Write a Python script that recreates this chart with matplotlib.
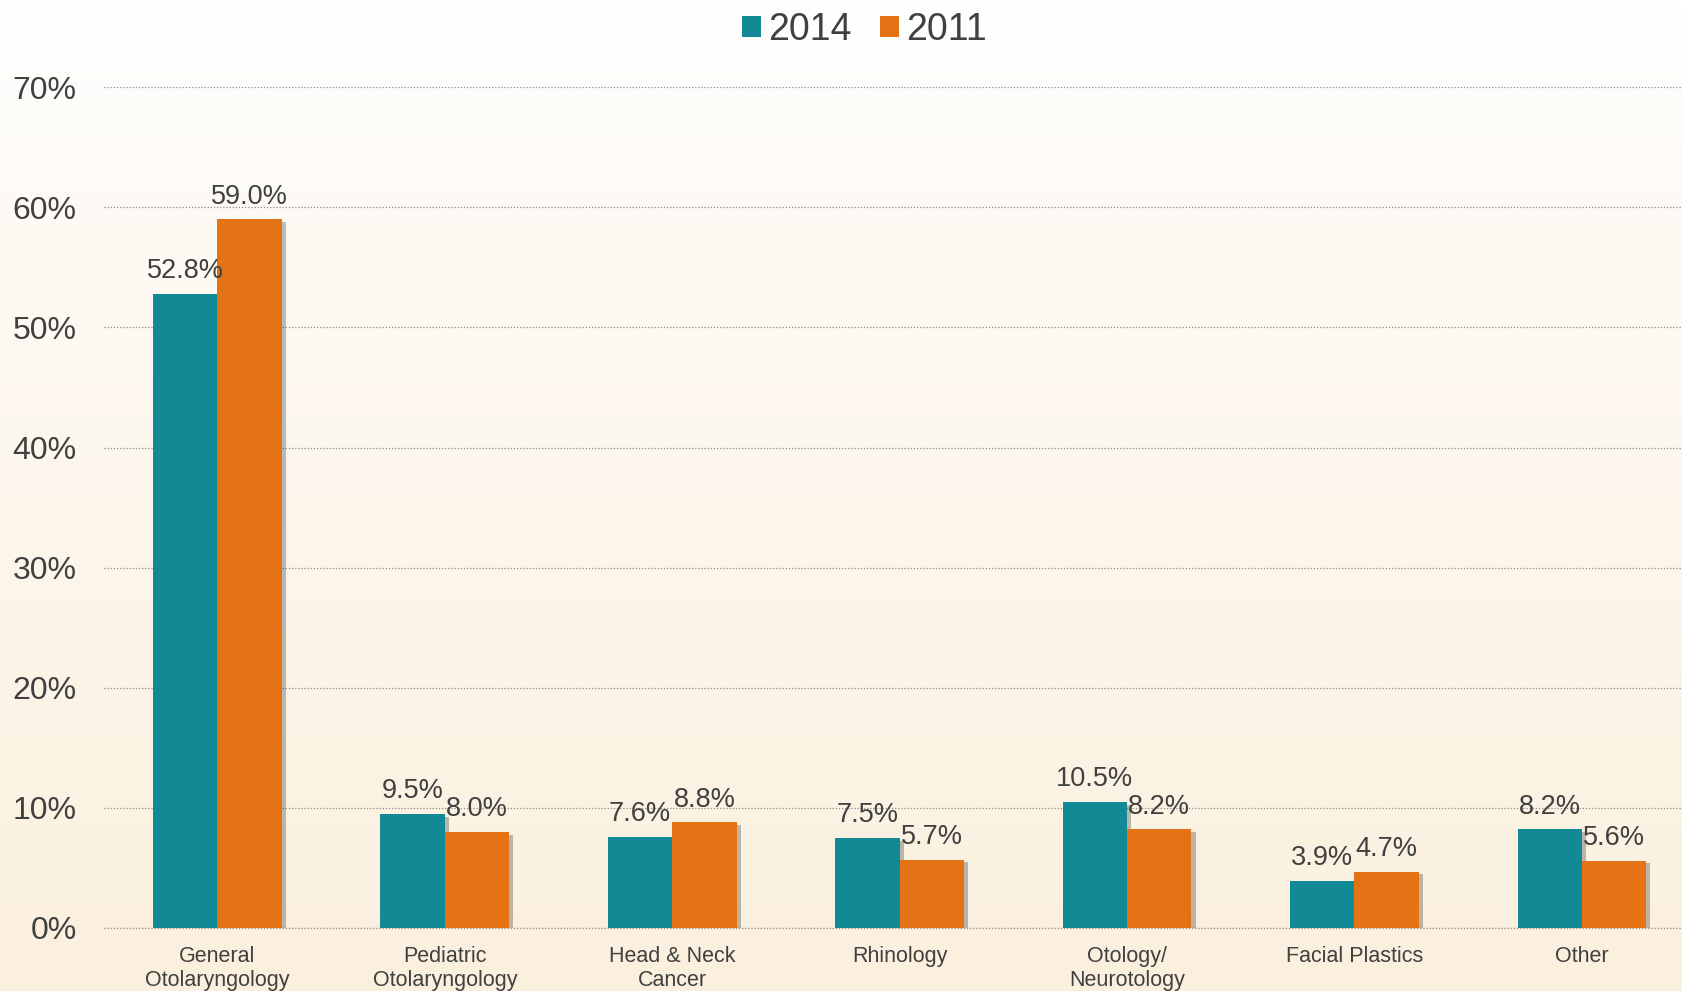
import matplotlib
matplotlib.use("Agg")
import matplotlib.pyplot as plt
import matplotlib.patheffects as pe
import numpy as np

plt.rcParams["font.family"] = ["Liberation Sans", "DejaVu Sans"]

# 数据
categories = ["General\nOtolaryngology", "Pediatric\nOtolaryngology", "Head & Neck\nCancer",
              "Rhinology", "Otology/\nNeurotology", "Facial Plastics", "Other"]
vals_2014 = [52.8, 9.5, 7.6, 7.5, 10.5, 3.9, 8.2]
vals_2011 = [59.0, 8.0, 8.8, 5.7, 8.2, 4.7, 5.6]
yticks = [0, 10, 20, 30, 40, 50, 60, 70]

teal = "#128A96"
orange = "#E37314"
txt = "#404040"

fig = plt.figure(figsize=(16.82, 9.91), dpi=100)

# 背景渐变（白色 -> 米色）
bg = fig.add_axes([0, 0, 1, 1], zorder=-10)
grad = np.linspace(0, 1, 256).reshape(-1, 1)
top = np.array([1.0, 1.0, 1.0])
bot = np.array([0xFB, 0xF0, 0xDE]) / 255
img = top + (bot - top) * grad[:, :, None] ** 0.8
bg.imshow(img, aspect="auto", extent=[0, 1, 0, 1])
bg.axis("off")

ax = fig.add_axes([0.062, 0.0636, 0.938, 0.8484])
ax.patch.set_alpha(0)

x = np.arange(len(categories))
w = 0.283
shadow = [pe.SimplePatchShadow(offset=(3, -2), shadow_rgbFace="black", alpha=0.25), pe.Normal()]
b1 = ax.bar(x - w / 2, vals_2014, w, color=teal, label="2014", zorder=3, path_effects=shadow)
b2 = ax.bar(x + w / 2, vals_2011, w, color=orange, label="2011", zorder=3, path_effects=shadow)

ax.bar_label(b1, labels=[f"{v:.1f}%" for v in vals_2014], padding=7, fontsize=19.5, color=txt, zorder=5)
ax.bar_label(b2, labels=[f"{v:.1f}%" for v in vals_2011], padding=7, fontsize=19.5, color=txt, zorder=5)

ax.set_xlim(-0.497, 6.44)
ax.set_ylim(0, 70)
ax.set_yticks(yticks)
ax.set_yticklabels([f"{t}%" for t in yticks], fontsize=23, color=txt)
ax.set_xticks(x)
ax.set_xticklabels(categories, fontsize=15.5, color=txt, linespacing=1.2)
ax.tick_params(axis="y", length=0, pad=20)
ax.tick_params(axis="x", length=0, pad=13)
ax.yaxis.grid(True, linestyle=(0, (1, 1.5)), color="#8a8a8a", linewidth=0.9, zorder=0)
ax.axhline(0, linestyle=(0, (1, 1.5)), color="#8a8a8a", linewidth=0.9, zorder=0, clip_on=False)
ax.set_axisbelow(True)
for s in ax.spines.values():
    s.set_visible(False)

leg = fig.legend(handles=[b1, b2], loc="center", bbox_to_anchor=(0.514, 0.97), ncol=2,
                 frameon=False, fontsize=27, handlelength=0.5, handleheight=0.5,
                 handletextpad=0.2, columnspacing=0.75)
for t in leg.get_texts():
    t.set_color(txt)
for h in leg.legend_handles:
    h.set_path_effects([])

fig.savefig("out.png", dpi=100)
